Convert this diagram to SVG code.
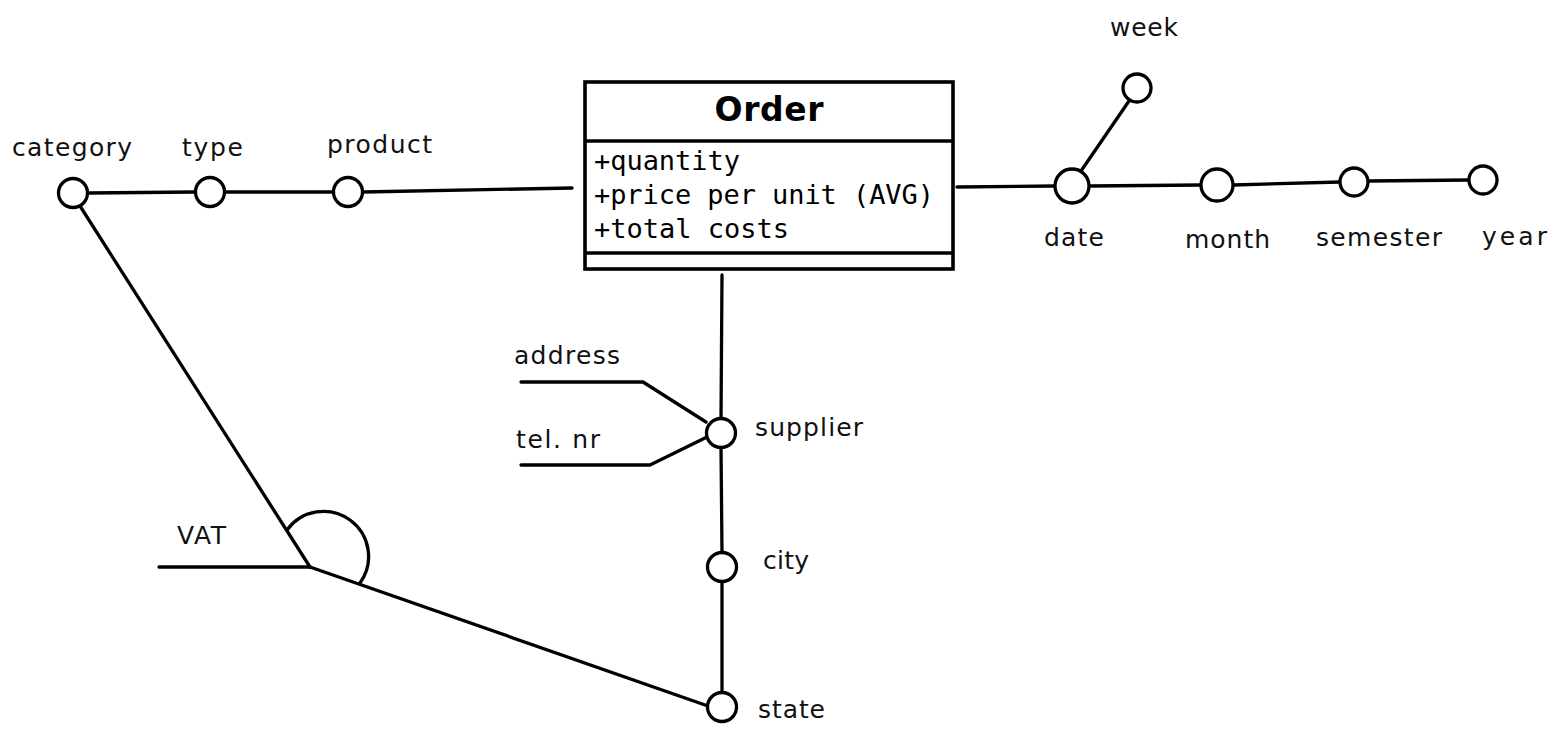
<svg xmlns="http://www.w3.org/2000/svg" width="1551" height="730" viewBox="0 0 1551 730">
<style>
.ln{fill:none;stroke:#000;stroke-width:3.3;stroke-linecap:round;stroke-linejoin:round}
.nd{fill:#fff;stroke:#000;stroke-width:3.3}
.lb{font-family:"DejaVu Sans",sans-serif;font-size:25px;fill:#111}
.at{font-family:"DejaVu Sans Mono",monospace;font-size:27px;fill:#000}
.tt{font-family:"DejaVu Sans",sans-serif;font-size:33px;font-weight:bold;fill:#000}
</style>
<rect width="1551" height="730" fill="#fff"/>
<g id="connectors">
<line class="ln" x1="88" y1="193" x2="195" y2="192"/>
<line class="ln" x1="225" y1="192" x2="333" y2="192"/>
<line class="ln" x1="363" y1="192" x2="572" y2="188"/>
<line class="ln" x1="957" y1="187" x2="1055" y2="186"/>
<line class="ln" x1="1081" y1="171" x2="1129" y2="101"/>
<line class="ln" x1="1089" y1="186" x2="1201" y2="185"/>
<line class="ln" x1="1233" y1="185" x2="1340" y2="182"/>
<line class="ln" x1="1368" y1="181" x2="1469" y2="180"/>
<line class="ln" x1="722" y1="275" x2="721" y2="419"/>
<line class="ln" x1="721" y1="447" x2="722" y2="553"/>
<line class="ln" x1="722" y1="581" x2="722" y2="693"/>
<polyline class="ln" points="521,382 643,382 706,422"/>
<polyline class="ln" points="521,465 650,465 707,437"/>
<line class="ln" x1="80" y1="206" x2="310" y2="567"/>
<line class="ln" x1="159" y1="567" x2="310" y2="567"/>
<line class="ln" x1="310" y1="567" x2="708" y2="706"/>
<path class="ln" d="M287,530 A45,45 0 0 1 360,583"/>
</g>
<g id="order">
<rect x="585" y="82" width="368" height="187" fill="#fff" stroke="#000" stroke-width="3.6"/>
<line x1="585" y1="141" x2="953" y2="141" stroke="#000" stroke-width="3.6"/>
<line x1="585" y1="253" x2="953" y2="253" stroke="#000" stroke-width="3.6"/>
<text class="tt" x="769" y="121" text-anchor="middle" textLength="109">Order</text>
<text class="at" x="594" y="170" textLength="146">+quantity</text>
<text class="at" x="594" y="204" textLength="340">+price per unit (AVG)</text>
<text class="at" x="594" y="238" textLength="195">+total costs</text>
</g>
<g id="category"><circle class="nd" cx="73" cy="193" r="14.5"/><text class="lb" x="12" y="156" textLength="120">category</text></g>
<g id="type"><circle class="nd" cx="210" cy="192" r="14.5"/><text class="lb" x="182" y="156" textLength="61">type</text></g>
<g id="product"><circle class="nd" cx="348" cy="192" r="14.5"/><text class="lb" x="327" y="153" textLength="105">product</text></g>
<g id="date"><circle class="nd" cx="1072" cy="186" r="17"/><text class="lb" x="1044" y="246" textLength="60">date</text></g>
<g id="week"><circle class="nd" cx="1137" cy="88" r="14"/><text class="lb" x="1110" y="36" textLength="68">week</text></g>
<g id="month"><circle class="nd" cx="1217" cy="185" r="16"/><text class="lb" x="1185" y="248" textLength="85">month</text></g>
<g id="semester"><circle class="nd" cx="1354" cy="182" r="14"/><text class="lb" x="1316" y="246" textLength="126">semester</text></g>
<g id="year"><circle class="nd" cx="1483" cy="180" r="14"/><text class="lb" x="1482" y="245" textLength="65">year</text></g>
<g id="supplier"><circle class="nd" cx="721" cy="433" r="14.5"/><text class="lb" x="755" y="436" textLength="108">supplier</text></g>
<g id="address"><text class="lb" x="514" y="364" textLength="106">address</text></g>
<g id="telnr"><text class="lb" x="516" y="448" textLength="84">tel. nr</text></g>
<g id="city"><circle class="nd" cx="722" cy="567" r="14.5"/><text class="lb" x="763" y="569" textLength="46">city</text></g>
<g id="state"><circle class="nd" cx="722" cy="707" r="14.5"/><text class="lb" x="758" y="718" textLength="67">state</text></g>
<g id="vat"><text class="lb" x="177" y="544" textLength="49">VAT</text></g>
</svg>
